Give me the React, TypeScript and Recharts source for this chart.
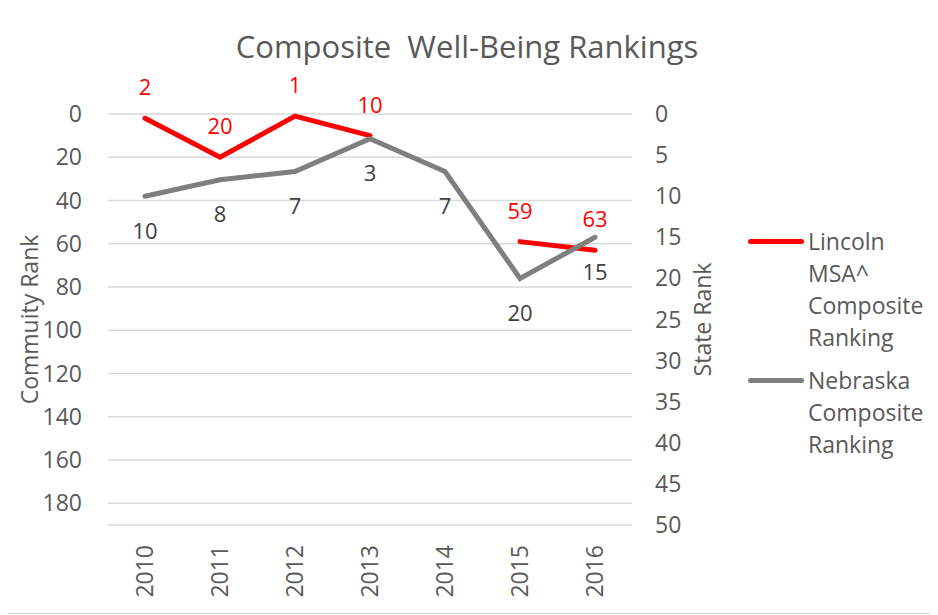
import React from 'react';
import { LineChart, Line, XAxis, YAxis, CartesianGrid, LabelList } from 'recharts';

const FONT = '"Open Sans", sans-serif';

const years = ['2010', '2011', '2012', '2013', '2014', '2015', '2016'];
// Lincoln MSA^ community rank (left axis), no value for 2014
const lincolnRank = [2, 20, 1, 10, null, 59, 63];
// Nebraska state rank (right axis)
const nebraskaRank = [10, 8, 7, 3, 7, 20, 15];

const leftTicks = [0, 20, 40, 60, 80, 100, 120, 140, 160, 180, 190];
const rightTicks = [0, 5, 10, 15, 20, 25, 30, 35, 40, 45, 50];

const seriesInfo = [
  { key: 'lincoln', name: 'Lincoln MSA^ Composite Ranking', color: '#ff0000' },
  { key: 'nebraska', name: 'Nebraska Composite Ranking', color: '#7f7f7f' },
];

const data = years.map((year, i) => ({
  year,
  lincoln: lincolnRank[i],
  nebraska: nebraskaRank[i],
}));

const LeftTick = ({ x, y, payload }: any) => {
  // last gridline (190) has no label
  if (payload.value === 190) return <g />;
  return (
    <text x={x} y={y} dy="0.35em" textAnchor="end" fill="#595959" fontSize={23} fontFamily={FONT}>
      {payload.value}
    </text>
  );
};

const RightTick = ({ x, y, payload }: any) => (
  <text x={x} y={y} dy="0.35em" textAnchor="start" fill="#595959" fontSize={23} fontFamily={FONT}>
    {payload.value}
  </text>
);

const YearTick = ({ x, y, payload }: any) => (
  <text
    x={x}
    y={y}
    dy="0.36em"
    textAnchor="end"
    transform={`rotate(-90 ${x} ${y})`}
    fill="#595959"
    fontSize={23}
    fontFamily={FONT}
  >
    {payload.value}
  </text>
);

export default function App() {
  return (
    <div
      style={{
        position: 'relative',
        width: 930,
        height: 605,
        border: '1px solid #d9d9d9',
        margin: '-1px 0 0 -1px',
        background: '#fff',
        fontFamily: FONT,
      }}
    >
      <div
        style={{
          position: 'absolute',
          top: 19,
          left: -6,
          width: 930,
          textAlign: 'center',
          fontSize: 31,
          color: '#595959',
          whiteSpace: 'pre',
          lineHeight: '38px',
        }}
      >
        {'Composite  Well-Being Rankings'}
      </div>

      <LineChart width={930} height={605} data={data} margin={{ top: 106, right: 206, bottom: 0, left: 0 }}>
        <CartesianGrid yAxisId="left" vertical={false} stroke="#d9d9d9" strokeWidth={1.5} />
        <XAxis
          dataKey="year"
          height={88}
          padding={{ left: 37, right: 37 }}
          axisLine={false}
          tickLine={false}
          tickSize={0}
          tickMargin={20}
          interval={0}
          tick={<YearTick />}
        />
        <YAxis
          yAxisId="left"
          orientation="left"
          width={100}
          reversed
          domain={[0, 190]}
          ticks={leftTicks}
          interval={0}
          axisLine={false}
          tickLine={false}
          tickSize={0}
          tickMargin={26}
          tick={<LeftTick />}
          label={{
            value: 'Commuity Rank',
            angle: -90,
            position: 'insideLeft',
            offset: 22,
            textAnchor: 'middle',
            fill: '#595959',
            fontSize: 23,
            fontFamily: FONT,
          }}
        />
        <YAxis
          yAxisId="right"
          orientation="right"
          width={100}
          reversed
          domain={[0, 50]}
          ticks={rightTicks}
          interval={0}
          axisLine={false}
          tickLine={false}
          tickSize={0}
          tickMargin={23}
          tick={<RightTick />}
          label={{
            value: 'State Rank',
            angle: -90,
            position: 'insideLeft',
            offset: 71,
            textAnchor: 'middle',
            fill: '#595959',
            fontSize: 23,
            fontFamily: FONT,
          }}
        />
        <Line
          yAxisId="left"
          type="linear"
          dataKey="lincoln"
          name={seriesInfo[0].name}
          stroke={seriesInfo[0].color}
          strokeWidth={5}
          strokeLinecap="round"
          dot={false}
          activeDot={false}
          isAnimationActive={false}
        >
          <LabelList dataKey="lincoln" position="top" offset={23} fill="#ff0000" fontSize={22} fontFamily={FONT} />
        </Line>
        <Line
          yAxisId="right"
          type="linear"
          dataKey="nebraska"
          name={seriesInfo[1].name}
          stroke={seriesInfo[1].color}
          strokeWidth={5}
          strokeLinecap="round"
          dot={false}
          activeDot={false}
          isAnimationActive={false}
        >
          <LabelList dataKey="nebraska" position="bottom" offset={27} fill="#404040" fontSize={22} fontFamily={FONT} />
        </Line>
      </LineChart>

      {/* legend */}
      <div style={{ position: 'absolute', left: 740, top: 217, color: '#595959', fontSize: 23, lineHeight: '32px' }}>
        {seriesInfo.map((s, i) => (
          <div key={s.key} style={{ display: 'flex', alignItems: 'flex-start', marginBottom: i === 0 ? 11 : 0 }}>
            <span
              style={{
                display: 'inline-block',
                width: 56,
                height: 5,
                borderRadius: 3,
                background: s.color,
                marginTop: 14,
                marginRight: 4,
                flexShrink: 0,
              }}
            />
            <span style={{ display: 'inline-block', width: 'min-content' }}>{s.name}</span>
          </div>
        ))}
      </div>
    </div>
  );
}
